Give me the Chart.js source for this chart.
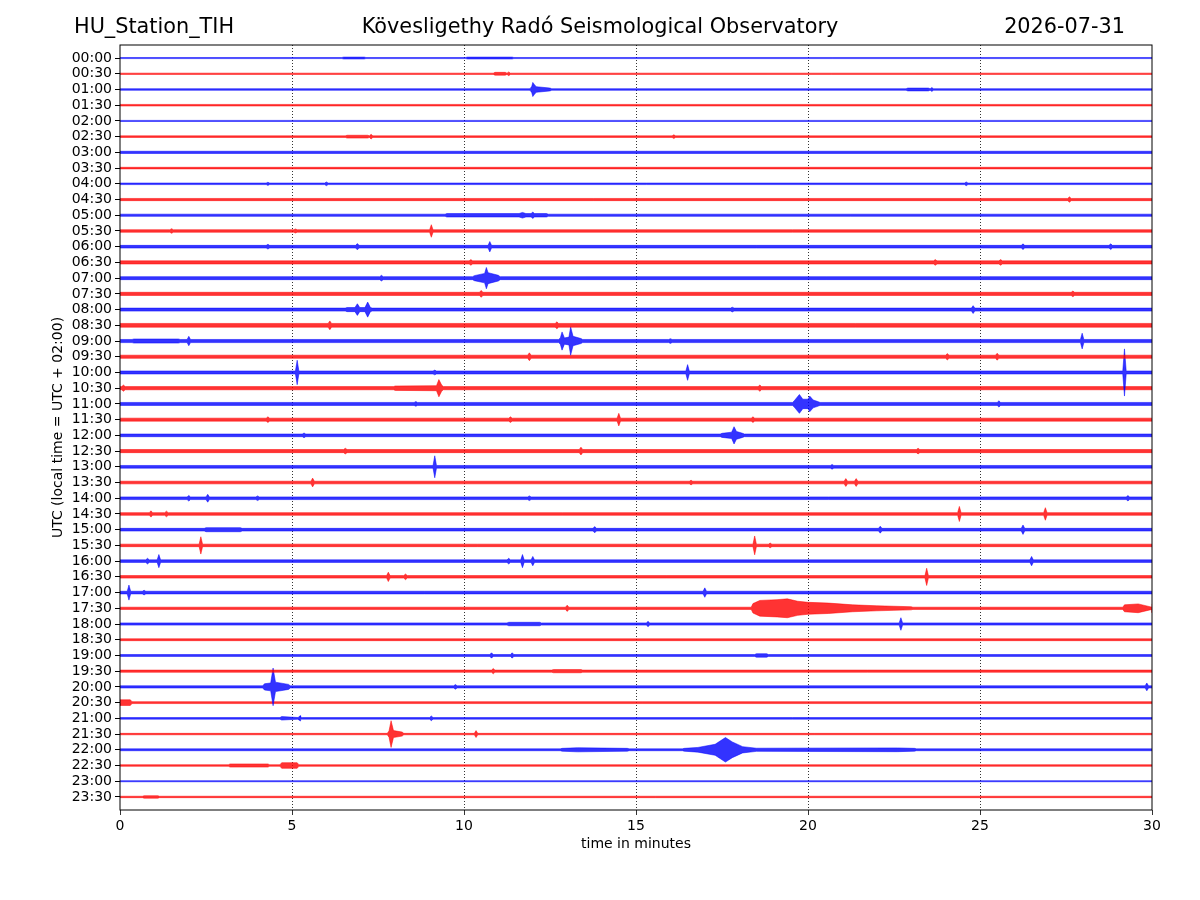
<!DOCTYPE html>
<html>
<head>
<meta charset="utf-8">
<title>Helicorder TIH</title>
<script src="https://cdn.jsdelivr.net/npm/chart.js@4.4.1/dist/chart.umd.min.js"></script>
<style>
  body { margin: 0; background: #fff; }
  canvas { display: block; }
</style>
</head>
<body>
<canvas id="heli" width="1200" height="900"></canvas>
<script>
// Trace labels (one trace = 30 minutes)
const traceLabels = [
  '00:00', '00:30', '01:00', '01:30', '02:00', '02:30', '03:00', '03:30',
  '04:00', '04:30', '05:00', '05:30', '06:00', '06:30', '07:00', '07:30',
  '08:00', '08:30', '09:00', '09:30', '10:00', '10:30', '11:00', '11:30',
  '12:00', '12:30', '13:00', '13:30', '14:00', '14:30', '15:00', '15:30',
  '16:00', '16:30', '17:00', '17:30', '18:00', '18:30', '19:00', '19:30',
  '20:00', '20:30', '21:00', '21:30', '22:00', '22:30', '23:00', '23:30'
];

const xTicks = [0, 5, 10, 15, 20, 25, 30];

// Background noise half-amplitude of each trace (in trace spacings)
const noiseLevel = [
  0.035, 0.04, 0.05, 0.05, 0.035, 0.05, 0.07, 0.05,
  0.05, 0.07, 0.07, 0.08, 0.085, 0.1, 0.095, 0.1,
  0.095, 0.12, 0.1, 0.1, 0.095, 0.1, 0.095, 0.095,
  0.085, 0.1, 0.085, 0.085, 0.085, 0.085, 0.085, 0.08,
  0.08, 0.08, 0.085, 0.07, 0.07, 0.06, 0.06, 0.07,
  0.07, 0.06, 0.05, 0.045, 0.06, 0.05, 0.035, 0.045
];

// Short spikes per trace: [minute, half-amplitude]
const spikes = [
  [], [[11.3, 0.12]], [[23.6, 0.12]], [], [], [[7.3, 0.15], [16.1, 0.12]], [], [],
  [[4.3, 0.1], [6.0, 0.12], [24.6, 0.12]], [[27.6, 0.17]], [],
  [[1.5, 0.15], [5.1, 0.13], [9.05, 0.4]],
  [[4.3, 0.15], [6.9, 0.2], [10.75, 0.33], [26.25, 0.18], [28.8, 0.18]],
  [[10.2, 0.18], [23.7, 0.18], [25.6, 0.18]],
  [[7.6, 0.18]], [[10.5, 0.22], [27.7, 0.18]],
  [[17.8, 0.15], [24.8, 0.25]], [[6.1, 0.28], [12.7, 0.22]],
  [[2.0, 0.3], [16.0, 0.15], [27.97, 0.5]],
  [[11.9, 0.25], [24.05, 0.2], [25.5, 0.22]],
  [[5.15, 0.78], [9.15, 0.15], [16.5, 0.5], [29.2, 1.5]],
  [[0.1, 0.2], [18.6, 0.2]],
  [[8.6, 0.15], [25.55, 0.2]],
  [[4.3, 0.18], [11.35, 0.18], [14.5, 0.4], [18.4, 0.18]],
  [[5.35, 0.15]],
  [[6.55, 0.18], [13.4, 0.25], [23.2, 0.18]],
  [[9.15, 0.7], [20.7, 0.15]],
  [[5.6, 0.28], [16.6, 0.15], [21.1, 0.25], [21.4, 0.25]],
  [[2.0, 0.18], [2.55, 0.25], [4.0, 0.15], [11.9, 0.15], [29.3, 0.17]],
  [[0.9, 0.2], [1.35, 0.18], [24.4, 0.48], [26.9, 0.4]],
  [[13.8, 0.2], [22.1, 0.22], [26.25, 0.3]],
  [[2.35, 0.55], [18.45, 0.6], [18.9, 0.15]],
  [[0.8, 0.18], [1.13, 0.42], [11.3, 0.18], [11.7, 0.42], [12.0, 0.3], [26.5, 0.3]],
  [[7.8, 0.3], [8.3, 0.18], [23.45, 0.55]],
  [[0.26, 0.48], [0.7, 0.15], [17.0, 0.3]],
  [[13.0, 0.2]],
  [[15.35, 0.17], [22.7, 0.4]], [],
  [[10.8, 0.17], [11.4, 0.17]], [[10.85, 0.17]],
  [[9.75, 0.15], [29.85, 0.25]], [],
  [[5.25, 0.17], [9.05, 0.15]], [[10.35, 0.22]],
  [], [], [], []
];

// Longer wave trains per trace: lists of [minute, half-amplitude] knots
const bursts = [
  [[[6.5, 0.06], [7.1, 0.06]], [[10.1, 0.06], [11.4, 0.06]]],
  [[[10.9, 0.09], [11.2, 0.09]]],
  [[[11.97, 0.2], [12.0, 0.45], [12.05, 0.3], [12.1, 0.18], [12.5, 0.09]], [[22.9, 0.09], [23.5, 0.09]]],
  [], [],
  [[[6.6, 0.09], [7.2, 0.09]]],
  [], [], [], [],
  [[[9.5, 0.11], [11.6, 0.11], [11.7, 0.18], [11.8, 0.11], [11.95, 0.11], [12.0, 0.2], [12.05, 0.11], [12.4, 0.11]]],
  [], [], [],
  [[[10.3, 0.16], [10.6, 0.3], [10.65, 0.68], [10.7, 0.35], [11.0, 0.18]]],
  [],
  [[[6.6, 0.13], [6.83, 0.13], [6.9, 0.37], [6.97, 0.13], [7.12, 0.13], [7.2, 0.48], [7.28, 0.13]]],
  [],
  [[[0.4, 0.13], [1.7, 0.13]], [[12.8, 0.2], [12.85, 0.58], [12.92, 0.2], [13.05, 0.25], [13.1, 0.9], [13.17, 0.3], [13.4, 0.16]]],
  [], [],
  [[[8.0, 0.14], [9.2, 0.16], [9.27, 0.55], [9.35, 0.2]]],
  [[[19.6, 0.2], [19.75, 0.6], [19.85, 0.3], [20.0, 0.3], [20.05, 0.5], [20.15, 0.25], [20.3, 0.14]]],
  [],
  [[[17.5, 0.13], [17.78, 0.2], [17.85, 0.55], [17.92, 0.25], [18.1, 0.13]]],
  [], [], [], [], [],
  [[[2.5, 0.13], [3.5, 0.13]]],
  [], [], [], [],
  [[[18.4, 0.3], [18.6, 0.5], [19.1, 0.55], [19.4, 0.6], [19.7, 0.45], [20.0, 0.38], [20.6, 0.33],
    [21.3, 0.22], [22.0, 0.16], [23.0, 0.1]], [[29.2, 0.22], [29.6, 0.28], [30.0, 0.28]]],
  [[[11.3, 0.11], [12.2, 0.11]]],
  [],
  [[[18.5, 0.11], [18.8, 0.11]]],
  [[[12.6, 0.1], [13.4, 0.1]]],
  [[[4.2, 0.2], [4.38, 0.25], [4.45, 1.2], [4.52, 0.3], [4.9, 0.16]]],
  [[[0.0, 0.18], [0.3, 0.18]]],
  [[[4.7, 0.11], [5.2, 0.11]]],
  [[[7.82, 0.2], [7.88, 0.85], [7.95, 0.22], [8.2, 0.13]]],
  [[[12.85, 0.09], [13.3, 0.13], [14.75, 0.09]],
   [[16.4, 0.09], [16.8, 0.15], [17.3, 0.35], [17.6, 0.78], [17.8, 0.5], [18.1, 0.2], [18.5, 0.1], [22.6, 0.12], [23.1, 0.09]]],
  [[[3.2, 0.1], [4.3, 0.1]], [[4.7, 0.18], [5.15, 0.18]]],
  [],
  [[[0.7, 0.08], [1.1, 0.08]]]
];

// Envelope knots of one trace, sorted by time
function traceKnots(i) {
  const base = noiseLevel[i];
  const knots = [[0, base], [30, base]];
  spikes[i].forEach(([t, a]) => {
    knots.push([t - 0.05, base], [t, a], [t + 0.05, base]);
  });
  bursts[i].forEach(b => {
    knots.push([b[0][0] - 0.05, base]);
    b.forEach(k => knots.push(k));
    knots.push([b[b.length - 1][0] + 0.05, base]);
  });
  return knots.sort((p, q) => p[0] - q[0]);
}

// Two datasets per trace, filled between them
const datasets = [];
traceLabels.forEach((label, i) => {
  const color = i % 2 === 0 ? '#0000ff' : '#ff0000';
  const fillColor = i % 2 === 0 ? 'rgba(0,0,255,0.8)' : 'rgba(255,0,0,0.8)';
  const knots = traceKnots(i);
  datasets.push({
    label: label,
    data: knots.map(([t, a]) => ({ x: t, y: i - a })),
    borderColor: color,
    borderWidth: 0.5,
    pointRadius: 0,
    fill: false
  });
  datasets.push({
    label: label + ' low',
    data: knots.map(([t, a]) => ({ x: t, y: i + a })),
    borderColor: color,
    backgroundColor: fillColor,
    borderWidth: 0.5,
    pointRadius: 0,
    fill: '-1'
  });
});

// Three-part header and the plot frame
const headerPlugin = {
  id: 'header',
  afterDraw(chart) {
    const ctx = chart.ctx;
    const area = chart.chartArea;
    ctx.save();
    ctx.strokeStyle = '#000';
    ctx.lineWidth = 1;
    ctx.strokeRect(area.left, area.top, area.right - area.left, area.bottom - area.top);
    ctx.fillStyle = '#000';
    ctx.font = '20.8px "DejaVu Sans"';
    ctx.textBaseline = 'middle';
    ctx.textAlign = 'left';
    ctx.fillText('HU_Station_TIH', 74, 28);
    ctx.textAlign = 'center';
    ctx.fillText('Kövesligethy Radó Seismological Observatory', 600, 28);
    ctx.textAlign = 'right';
    ctx.fillText('2026-07-31', 1125, 28);
    ctx.restore();
  }
};

Chart.defaults.font.family = '"DejaVu Sans", sans-serif';
Chart.defaults.font.size = 14;
Chart.defaults.color = '#000';

new Chart(document.getElementById('heli'), {
  type: 'line',
  data: { datasets: datasets },
  options: {
    responsive: false,
    animation: false,
    parsing: false,
    layout: { padding: { left: 50, top: 45, right: 48, bottom: 43 } },
    plugins: {
      legend: { display: false },
      tooltip: { enabled: false }
    },
    scales: {
      x: {
        type: 'linear',
        min: 0,
        max: 30,
        afterBuildTicks: scale => { scale.ticks = xTicks.map(v => ({ value: v })); },
        afterFit: scale => { scale.height = 47; },
        ticks: { padding: 3, maxRotation: 0 },
        grid: {
          drawOnChartArea: true,
          color: c => (c.tick && (c.tick.value === 0 || c.tick.value === 30)) ? 'rgba(0,0,0,0)' : '#000',
          lineWidth: 0.8,
          tickColor: '#000',
          tickLength: 5
        },
        border: { display: false, dash: [1, 2] },
        title: { display: true, text: 'time in minutes', padding: { top: 2, bottom: 4 } }
      },
      y: {
        type: 'linear',
        reverse: true,
        min: -0.83,
        max: 47.83,
        afterBuildTicks: scale => { scale.ticks = traceLabels.map((l, i) => ({ value: i })); },
        afterFit: scale => { scale.width = 70; },
        ticks: { padding: 3, autoSkip: false, callback: v => traceLabels[v] },
        grid: {
          drawOnChartArea: false,
          tickColor: '#000',
          tickLength: 5
        },
        border: { display: false },
        title: { display: true, text: 'UTC (local time = UTC + 02:00)', padding: { top: 0, bottom: 4 } }
      }
    }
  },
  plugins: [headerPlugin]
});
</script>
</body>
</html>
